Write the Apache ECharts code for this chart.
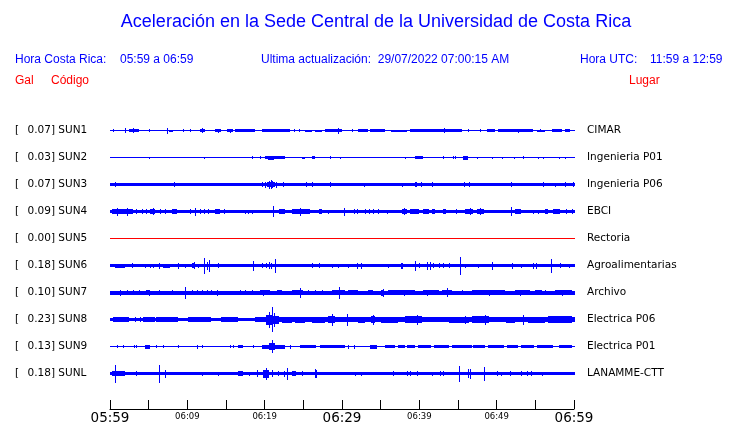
<!DOCTYPE html>
<html><head><meta charset="utf-8">
<script src="https://cdn.jsdelivr.net/npm/echarts@6/dist/echarts.min.js"></script>
<style>html,body{margin:0;padding:0;background:#fff}#c{width:740px;height:423px}</style>
</head><body><div id="c"></div>
<script>
// ---------------- DATA ----------------
const titleText = 'Aceleración en la Sede Central de la Universidad de Costa Rica';
const localLabel = 'Hora Costa Rica:';
const localRange = '05:59 a 06:59';
const updateText = 'Ultima actualización:  29/07/2022 07:00:15 AM';
const utcLabel = 'Hora UTC:';
const utcRange = '11:59 a 12:59';
const colHeaders = ['Gal', 'Código', 'Lugar'];

const stationCodes = ['SUN1','SUN2','SUN3','SUN4','SUN5','SUN6','SUN7','SUN8','SUN9','SUNL'];
const stationGal = [0.07, 0.03, 0.07, 0.09, 0.00, 0.18, 0.10, 0.23, 0.13, 0.18];
const stationPlaces = ['CIMAR','Ingenieria P01','Ingenieria P06','EBCI','Rectoria','Agroalimentarias','Archivo','Electrica P06','Electrica P01','LANAMME-CTT'];

// minutes after 05:59 (0..60)
const tickLabels = ['05:59','06:09','06:19','06:29','06:39','06:49','06:59'];

// envelope segments: [startMin, endMin, halfAmplitude]
const sun1Bands = [[0,60,0.5],[2.5,3.8,1.5],[7.6,8.2,1],[11.6,12.3,1.5],[13.6,14.4,1.5],[15.1,15.9,1.5],[16.2,18.8,1.2],[19.6,23.3,1.2],[25.2,26.1,1],[26.5,27.4,1],[27.8,30.0,1.2],[32.1,33.4,1.2],[33.6,35.6,1.2],[36.4,38.4,1],[38.8,45.5,1.3],[48.7,49.8,1.3],[50.2,54.7,1.3],[55.2,56.3,1],[57.1,58.4,1.2],[58.8,59.5,1.2]];
const sun1Spikes = [[0.4,1.5],[1.9,2.5],[3.0,2.5],[5.1,1.5],[7.4,3],[9.5,1.5],[10.3,1.5],[11.9,2.5],[14.0,2],[15.5,2],[23.8,1.5],[24.4,1.5],[29.5,3],[31.3,1.5],[43.2,2.5],[46.3,1.5],[47.8,1.5],[52.8,2],[55.6,1.5]];

const sun2Bands = [[0,60,0.5],[20.0,22.6,1.5],[20.4,21.2,2],[24.8,25.2,1],[26.1,26.5,1.5],[39.4,40.5,1.5],[45.7,46.3,2]];
const sun2Spikes = [[5.0,1],[12.2,1],[18.4,1.5],[19.4,1.5],[28.4,1.5],[29.7,1],[38.1,1],[43.0,1.5],[44.4,1.5],[44.6,1.5],[47.5,1],[49.4,1],[50.7,1],[52.2,1],[53.4,1.5],[55.4,1],[56.0,1],[58.0,1],[58.8,1]];

const sun3Bands = [[0,60,1.5],[20.3,21.3,2.5]];
const sun3Spikes = [[0.7,2.5],[8.3,2.5],[19.6,2.5],[20.0,3],[20.6,4],[20.8,4.5],[21.0,3.5],[21.5,3],[22.4,2.5],[25.4,2.5],[26.1,2.5],[28.4,2.5],[32.9,2],[37.8,2],[39.4,2.5],[39.6,2.5],[40.2,2.5],[41.6,2.5],[45.8,2.5],[46.4,2.5],[51.9,2.5],[56.0,2.5],[57.5,2],[58.8,2.5],[59.9,2.5]];

const sun4Bands = [[0,60,1.3],[0.2,2.8,2.2],[5.2,5.8,2.5],[8.0,8.6,2.2],[13.6,14.2,2.2],[21.8,22.6,2.2],[23.5,25.9,2.2],[27.0,27.4,2.5],[37.7,38.4,2.5],[38.8,39.9,2.2],[40.5,41.2,2.2],[41.6,42.0,2.5],[43.1,43.5,2.2],[45.9,47.0,2.5],[47.5,48.4,2.5],[52.4,53.2,2.2],[56.3,56.7,2.2],[57.3,58.2,2.2]];
const sun4Spikes = [[0.9,4],[2.2,4],[2.8,2.5],[3.4,2.5],[4.1,2.5],[4.7,2.5],[5.5,3.5],[6.5,2.5],[7.1,2.5],[10.3,2.5],[11.0,4],[11.6,2.5],[12.2,2.5],[12.7,2.5],[14.8,2.5],[17.5,2],[17.9,2],[18.3,2],[21.1,5.5],[24.6,4],[28.2,2],[30.2,4],[31.5,2.5],[31.9,2.5],[33.0,2.5],[33.5,2.5],[34.0,2.5],[34.7,2.5],[35.8,2],[38.0,3.5],[44.7,2.5],[46.5,3.5],[47.8,3.5],[51.9,4.5],[54.7,2],[55.3,2],[59.0,2.5],[59.7,2.5]];

const sun5Bands = [[0,60,0.5]];
const sun5Spikes = [];

const sun6Bands = [[0,60,1.5],[0.6,1.9,2],[6.9,7.8,2],[10.6,11.0,2.5]];
const sun6Spikes = [[0.7,2],[1.3,2],[2.8,2.5],[4.5,2],[5.2,2],[5.6,2],[6.3,3],[7.5,2],[8.8,3],[9.7,2],[10.8,3.5],[11.4,2],[12.2,8],[12.5,4],[12.8,6],[14.0,2.5],[18.5,5],[19.6,2.5],[20.2,2.5],[20.5,3.5],[20.8,3],[21.4,7],[26.1,2.5],[27.0,2.5],[28.7,2],[29.5,2],[30.8,2],[32.0,3],[32.5,3],[36.0,2],[37.6,3],[37.8,3],[39.4,5],[39.9,2.5],[41.0,4],[41.4,4],[41.8,2.5],[42.5,2.5],[43.1,2.5],[43.8,2.5],[45.3,9],[45.9,2],[47.6,2],[49.4,4],[52.0,3],[53.2,2],[54.7,3],[55.1,3],[57.0,7],[58.2,2.5],[59.3,2]];

const sun7Bands = [[0,60,2],[4.7,5.2,2.5],[19.4,20.7,2.5],[21.6,22.2,2.5],[23.5,25.0,2.5],[28.7,30.4,2.5],[30.8,32.1,2.5],[33.4,34.0,2.5],[35.0,35.4,3],[36.0,39.4,2.5],[40.5,42.5,2.5],[42.9,44.2,2.5],[47.0,51.1,2.5],[52.4,54.3,2.5],[55.0,55.8,2.5],[57.6,59.7,2.5]];
const sun7Spikes = [[1.3,3],[2.2,2.5],[3.0,2.5],[3.7,2.5],[5.0,3],[6.3,2.5],[8.0,2.5],[9.7,6],[10.6,2.5],[11.2,2.5],[11.9,2.5],[12.5,2.5],[13.1,2.5],[13.8,3],[16.8,2.5],[17.5,2.5],[18.3,2.5],[19.8,3],[24.6,5],[25.6,2.5],[26.5,2.5],[27.4,2.5],[29.6,6],[35.3,4],[38.0,3],[41.0,3],[43.6,4.5],[45.5,2.5],[46.8,2.5],[49.0,3],[53.0,3],[56.3,2.5],[58.5,3]];

const sun8Bands = [[0,19.4,1.7],[19.4,60,2.2],[0.4,2.4,2.3],[4.3,5.8,2.5],[6.0,8.8,2.5],[10.1,13.1,2.2],[14.4,16.6,2.2],[18.7,20.2,2.8],[20.2,20.9,5],[21.1,21.8,4],[22.2,23.5,3],[23.9,25.2,3],[26.1,27.8,3],[28.2,29.1,3.5],[29.5,30.4,2.8],[32.1,33.0,3],[33.8,34.3,3.5],[35.1,37.3,3],[38.2,40.3,3.3],[40.7,42.9,2.8],[43.8,46.4,3],[46.8,49.0,3.3],[51.2,52.4,3],[54.1,56.3,3],[56.7,59.7,3.3]];
const sun8Spikes = [[3.2,2.5],[3.9,2.5],[20.6,8],[20.9,12.5],[21.2,7],[28.7,6],[30.7,6],[34.0,5],[39.7,5],[45.9,4],[48.5,5],[53.4,5]];

const sun9Bands = [[0,60,0.5],[4.5,5.2,2],[16.6,17.2,1.5],[19.6,20.5,2],[20.5,21.3,3.5],[21.3,22.6,2],[24.6,26.7,1.5],[27.2,30.4,1.5],[33.6,34.5,2],[35.6,36.9,1.5],[37.3,38.1,1.5],[38.4,39.4,1.5],[39.8,41.5,1.5],[41.9,43.8,1.5],[44.2,46.8,1.5],[47.0,48.5,1.5],[48.9,51.0,1.5],[51.4,52.8,1.5],[53.1,54.8,1.5],[55.2,57.3,1.5],[58.0,59.7,1.5]];
const sun9Spikes = [[0.9,1.5],[1.7,1.5],[3.1,1.5],[3.4,1.5],[6.0,1.5],[6.9,1.5],[8.8,1.5],[11.2,2],[11.9,1.5],[15.5,1.5],[15.9,1.5],[18.5,1.5],[20.9,6.5],[23.3,2],[30.8,2],[31.5,2]];

const sunLBands = [[0,60,1.8],[0.2,1.9,2.3],[16.6,17.2,2.5],[19.8,20.5,4],[23.5,24.1,2.3]];
const sunLSpikes = [[0.6,9],[3.4,2.5],[6.4,9],[7.1,4],[11.9,2],[14.0,2],[18.0,2],[19.0,3.5],[20.2,6],[21.0,3.5],[21.7,2.5],[22.5,3],[22.9,6],[24.8,2.5],[26.5,4.5],[26.7,4],[31.7,2],[32.5,2],[36.6,2.5],[38.4,2.5],[38.8,2.5],[39.7,2.5],[41.6,2],[42.7,2.5],[43.1,2.5],[45.1,8],[46.3,4.5],[46.5,5],[48.4,7],[50.0,2.5],[50.6,2],[51.7,2.5],[53.2,2.5],[53.9,2.5],[54.4,2.5],[55.9,2]];

// ---------------- CHART ----------------
const bandsList = [sun1Bands,sun2Bands,sun3Bands,sun4Bands,sun5Bands,sun6Bands,sun7Bands,sun8Bands,sun9Bands,sunLBands];
const spikesList = [sun1Spikes,sun2Spikes,sun3Spikes,sun4Spikes,sun5Spikes,sun6Spikes,sun7Spikes,sun8Spikes,sun9Spikes,sunLSpikes];

const GRID = {left:110, top:117, width:464, height:270};
const LANE = 27;
const laneCenter = i => 13.5 + LANE * i;
const BLUE = '#0000ff', RED = '#ff0000';

const chart = echarts.init(document.getElementById('c'), null, {renderer:'canvas'});

const series = stationCodes.map((code, i) => {
  const items = [];
  bandsList[i].forEach(b => items.push([b[0], b[1], b[2], 0]));
  spikesList[i].forEach(s => items.push([s[0], s[0], s[1], 1]));
  const color = stationGal[i] === 0 ? RED : BLUE;
  return {
    type: 'custom', name: code, silent: true, animation: false, clip: false,
    itemStyle: {color: color},
    data: items,
    encode: {x: [0, 1], y: 2},
    renderItem: (params, api) => {
      const t0 = api.value(0), t1 = api.value(1), h = api.value(2), spike = api.value(3);
      const c = laneCenter(i);
      const pA = api.coord([t0, c - h]);
      const pB = api.coord([t1, c + h]);
      const x0 = Math.round(pA[0]);
      const x1 = spike ? x0 + 1 : Math.round(pB[0]) + (t1 >= 60 ? 1 : 0);
      let y0 = Math.round(Math.min(pA[1], pB[1]));
      let y1 = Math.round(Math.max(pA[1], pB[1]));
      if (y1 <= y0) y1 = y0 + 1;
      return {type: 'rect', shape: {x: x0, y: y0, width: Math.max(1, x1 - x0), height: y1 - y0},
              style: {fill: color, stroke: null, lineWidth: 0}};
    }
  };
});

const HF = '"Liberation Sans", Arial, sans-serif';
const LF = '"DejaVu Sans", sans-serif';
const graphics = [
  {type:'text', x:376, y:22, style:{text:titleText, font:'18px '+HF, fill:BLUE, textAlign:'center', textVerticalAlign:'middle'}},
  {type:'text', x:15, y:60, style:{text:localLabel, font:'12px '+HF, fill:BLUE, textVerticalAlign:'middle'}},
  {type:'text', x:120, y:60, style:{text:localRange, font:'12px '+HF, fill:BLUE, textVerticalAlign:'middle'}},
  {type:'text', x:261, y:60, style:{text:updateText, font:'12px '+HF, fill:BLUE, textVerticalAlign:'middle'}},
  {type:'text', x:580, y:60, style:{text:utcLabel, font:'12px '+HF, fill:BLUE, textVerticalAlign:'middle'}},
  {type:'text', x:650, y:60, style:{text:utcRange, font:'12px '+HF, fill:BLUE, textVerticalAlign:'middle'}},
  {type:'text', x:15, y:81, style:{text:colHeaders[0], font:'12px '+HF, fill:RED, textVerticalAlign:'middle'}},
  {type:'text', x:51, y:81, style:{text:colHeaders[1], font:'12px '+HF, fill:RED, textVerticalAlign:'middle'}},
  {type:'text', x:629, y:81, style:{text:colHeaders[2], font:'12px '+HF, fill:RED, textVerticalAlign:'middle'}}
];
stationCodes.forEach((code, i) => {
  const y = GRID.top + laneCenter(i) - 0.5;
  graphics.push({type:'text', x:15, y:y, style:{text:'[', font:'10.5px '+LF, fill:'#000', textVerticalAlign:'middle'}});
  graphics.push({type:'text', x:27.5, y:y, style:{text:stationGal[i].toFixed(2) + '] ' + code, font:'10.5px '+LF, fill:'#000', textVerticalAlign:'middle'}});
  graphics.push({type:'text', x:587, y:y, style:{text:stationPlaces[i], font:'10.5px '+LF, fill:'#000', textVerticalAlign:'middle'}});
});

chart.setOption({
  animation: false,
  backgroundColor: '#fff',
  grid: {left: GRID.left, top: GRID.top, width: GRID.width, height: GRID.height, containLabel: false, outerBoundsMode: 'none'},
  xAxis: {
    type: 'value', position: 'bottom', min: 0, max: 60, interval: 5, offset: 22,
    axisLine: {show: true, onZero: false, lineStyle: {color: '#000', width: 1}},
    axisTick: {show: true, inside: true, length: 9, lineStyle: {color: '#000', width: 1}},
    splitLine: {show: false},
    axisLabel: {
      margin: 2, showMinLabel: true, showMaxLabel: true, hideOverlap: false,
      formatter: v => {
        if (v % 10 !== 0) return '';
        const idx = v / 10;
        return (idx % 3 === 0 ? '{big|' : '{small|') + tickLabels[idx] + '}';
      },
      rich: {
        big: {fontSize: 13.5, fontFamily: 'DejaVu Sans', color: '#000'},
        small: {fontSize: 8.5, fontFamily: 'DejaVu Sans', color: '#000', padding: [1, 0, 0, 0]}
      }
    }
  },
  yAxis: {type: 'value', min: 0, max: 270, inverse: true, show: false},
  series: series,
  graphic: graphics
});
</script>
</body></html>
